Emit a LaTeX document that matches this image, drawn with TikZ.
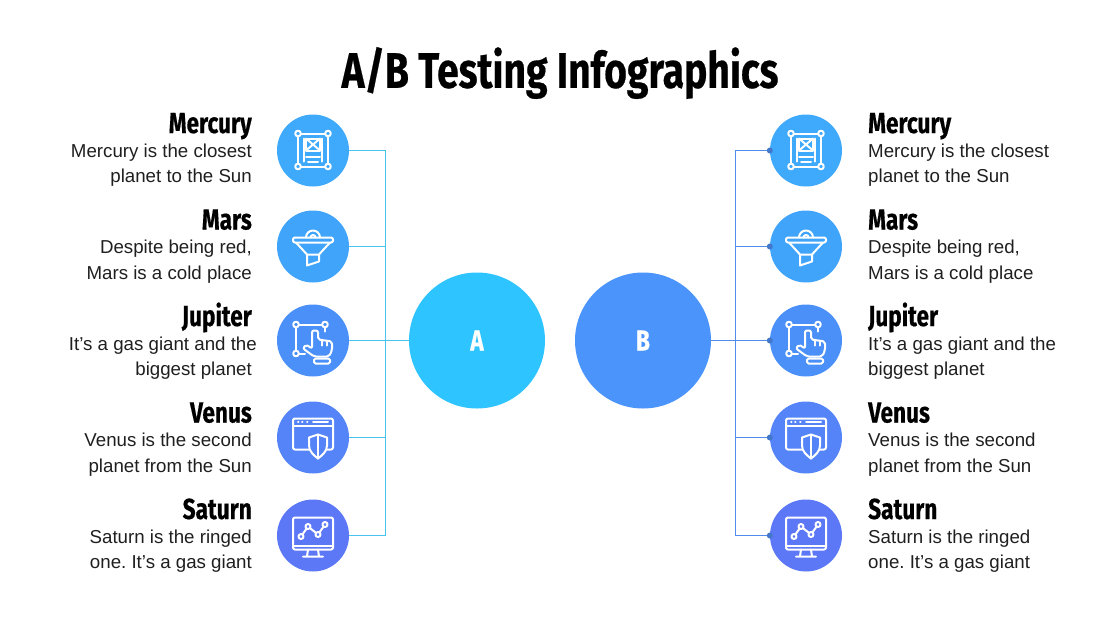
\documentclass[tikz,border=0pt]{standalone}
\usepackage{fontspec}
\setmainfont{Liberation Sans}
\newfontfamily\headfont[FakeStretch=0.78,FakeBold=0.4]{Fira Sans}
\frenchspacing
\definecolor{colA}{HTML}{2EC4FF}
\definecolor{colB}{HTML}{4A94FB}
\definecolor{colMercury}{HTML}{3FA9FB}
\definecolor{colMars}{HTML}{40A4FB}
\definecolor{colJupiter}{HTML}{4A90F8}
\definecolor{colVenus}{HTML}{5484F8}
\definecolor{colSaturn}{HTML}{5C78F6}
\definecolor{linkA}{HTML}{48C4EE}
\definecolor{linkB}{HTML}{4F8CEE}
\tikzset{
    x=1pt, y=-1pt,
    planet/.style={circle, inner sep=0pt, minimum size=72pt},
    group/.style={circle, inner sep=0pt, minimum size=136pt, text=white, font=\headfont\bfseries\fontsize{29}{30}\selectfont},
    heading/.style={inner sep=0pt, font=\headfont\bfseries\fontsize{29}{30}\selectfont},
    descr/.style={inner sep=0pt, text=black!88, font=\fontsize{18.7}{25.5}\selectfont},
    lefta/.style={draw=linkA, line width=1.8pt},
    rightb/.style={draw=linkB, line width=1.8pt},
    tip/.style={circle, inner sep=0pt, minimum size=6pt, fill=linkB!85!black},
    icon/.style={draw=white, line width=2pt, line join=round, line cap=round},
    frameicon/.pic={
        \draw[icon] (-15,-14) -- (-15,13) (15,-14) -- (15,13) (-12,-17) -- (12,-17) (-12,16) -- (12,16);
        \foreach \cx in {-15,15} \foreach \cy in {-17,16}
            \draw[icon] (\cx,\cy) circle (2.8);
        \draw[icon] (-9,-12) -- (-9,11) (9,-12) -- (9,11);
        \draw[icon] (-7,-12) rectangle (7,0);
        \draw[icon] (-7,-12) -- (7,0) (7,-12) -- (-7,0);
        \draw[icon] (-7,6) -- (7,6) (-5,11) -- (5,11);
    },
    funnelicon/.pic={
        \draw[icon] (-7,-9) arc (180:360:7);
        \draw[icon] (-2.5,-9) arc (180:360:2.5);
        \draw[icon, rounded corners=2pt] (-20,-9) rectangle (20,-4);
        \draw[icon] (-17,-4) -- (-6,8) -- (6,8) -- (17,-4);
        \draw[icon] (-6,8) -- (-6,19) -- (6,15) -- (6,8);
    },
    handicon/.pic={
        \draw[icon] (-17,-13) -- (-17,10) (-14,-16) -- (9,-16) (-14,13) -- (-8,13) (12,-13) -- (12,-9);
        \foreach \cx/\cy in {-17/-16,12/-16,-17/13}
            \draw[icon] (\cx,\cy) circle (2.8);
        \draw[icon, fill=\col, rounded corners=2pt] (1,16) -- (-10,8) -- (-7,4) -- (-1,8) -- (-1,-10) -- (5,-10) -- (5,-1) -- (19,1) -- (19,10) -- (16,16) -- cycle;
        \draw[icon] (9,-1) -- (9,5) (14,0) -- (14,5);
        \draw[icon, rounded corners=1.5pt] (1,18) rectangle (17,23);
    },
    shieldicon/.pic={
        \draw[icon, rounded corners=2pt] (-20,-19) rectangle (20,12);
        \draw[icon] (-20,-12) -- (20,-12);
        \draw[icon] (-15,-15.5) -- (-14.5,-15.5) (-11,-15.5) -- (-10.5,-15.5) (-6,-15.5) -- (-5.5,-15.5) (0,-15.5) -- (15,-15.5);
        \draw[icon, fill=\col] (5,-3) -- (14,0) -- (14,8) .. controls (14,14) and (9,18) .. (5,21) .. controls (1,18) and (-4,14) .. (-4,8) -- (-4,0) -- cycle;
        \draw[icon] (5,-3) -- (5,21);
    },
    charticon/.pic={
        \draw[icon, rounded corners=2pt] (-20,-18) rectangle (20,14);
        \draw[icon] (-20,10) -- (20,10);
        \draw[icon] (-5,14) -- (-6,21) (5,14) -- (6,21) (-10,21) -- (10,21);
        \draw[icon] (-12,1) -- (-5,-9) -- (5,-1) -- (12,-11);
        \foreach \cx/\cy in {-12/1,-5/-9,5/-1,12/-11}
            \draw[icon, fill=\col] (\cx,\cy) circle (2.5);
    },
}
\begin{document}
\begin{tikzpicture}
    \useasboundingbox (0,0) rectangle (1120,630);

    \node[inner sep=0pt, font=\headfont\bfseries\fontsize{50}{52}\selectfont] (title) at (560,73) {A/B Testing Infographics};

    \node[group, fill=colA] (A) at (477,340.5) {A};
    \node[group, fill=colB] (B) at (643,340.5) {B};

    \coordinate (ljoin) at (385.5,340.5);
    \coordinate (rjoin) at (735.5,340.5);

    \foreach \i/\py/\ty/\col/\pict/\name/\first/\second/\shift in {
        1/150.5/133/colMercury/frameicon/Mercury/Mercury is the closest/planet to the Sun/0,
        2/246.5/229.5/colMars/funnelicon/Mars/{Despite being red,}/Mars is a cold place/0,
        3/340.5/326/colJupiter/handicon/Jupiter/It's a gas giant and the/biggest planet/5,
        4/437.5/422.5/colVenus/shieldicon/Venus/Venus is the second/planet from the Sun/0,
        5/535.5/519/colSaturn/charticon/Saturn/Saturn is the ringed/one. It's a gas giant/0}
    {
        \node[planet, fill=\col] (l\i) at (313,\py) {};
        \node[planet, fill=\col] (r\i) at (806,\py) {};
        \pic at (l\i) {\pict};
        \pic at (r\i) {\pict};

        \node[heading, anchor=base east] (lh\i) at (252,\ty) {\name};
        \node[heading, anchor=base west] (rh\i) at (868,\ty) {\name};
        \node[descr, anchor=east, align=right] (ld\i) at (252,\ty+32) {\first\kern-\shift pt\\\second};
        \node[descr, anchor=west, align=left] (rd\i) at (868,\ty+32) {\first\\\second};

        \node[tip] (t\i) at (r\i.west) {};
        \draw[lefta] (l\i) -| (ljoin);
        \draw[rightb] (t\i) -| (rjoin);
    }

    \draw[lefta] (ljoin) -- (A);
    \draw[rightb] (B) -- (rjoin);
\end{tikzpicture}
\end{document}
